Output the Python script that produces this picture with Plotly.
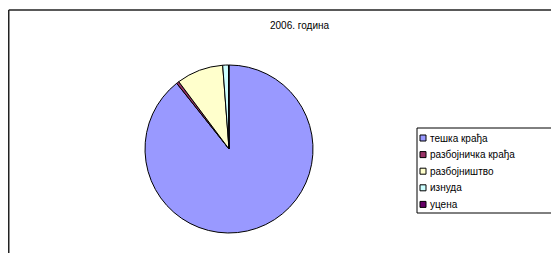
import plotly.graph_objects as go

W, H = 559, 253
OFF = 8  # page body margin: screen coords = paper coords + 8

labels = ["тешка крађа", "разбојничка крађа", "разбојништво", "изнуда", "уцена"]
values = [89.3, 0.5, 9.0, 1.1, 0.1]
colors = ["#9999FF", "#993366", "#FFFFCC", "#CCFFFF", "#660066"]
title = "2006. година"

def px(x):
    return (x - OFF) / W

def py(y):
    return 1 - (y - OFF) / H

cx, cy, r = 229, 149, 84

fig = go.Figure(go.Pie(
    labels=labels,
    values=values,
    sort=False,
    direction="clockwise",
    rotation=0,
    marker=dict(colors=colors, line=dict(color="#000000", width=1)),
    textinfo="none",
    hoverinfo="label+percent",
    showlegend=False,
    domain=dict(x=[px(cx - r), px(cx + r)], y=[py(cy + r), py(cy - r)]),
))

shapes = []
annotations = []

# outer chart border (only top and left visible)
shapes.append(dict(type="line", xref="paper", yref="paper",
                   x0=px(8.75), x1=px(W + 20), y0=py(10), y1=py(10),
                   line=dict(color="#222222", width=1.5)))
shapes.append(dict(type="line", xref="paper", yref="paper",
                   x0=px(8.75), x1=px(8.75), y0=py(10), y1=py(H + 20),
                   line=dict(color="#222222", width=1.5)))

# legend box
lx0, lx1, ly0, ly1 = 417, 555, 128, 213
shapes.append(dict(type="rect", xref="paper", yref="paper",
                   x0=px(lx0), x1=px(lx1), y0=py(ly0), y1=py(ly1),
                   line=dict(color="#000000", width=1), fillcolor="white", layer="below"))
row0, step = 138, 16.6
for i, (lab, col) in enumerate(zip(labels, colors)):
    yc = row0 + i * step
    shapes.append(dict(type="rect", xref="paper", yref="paper",
                       x0=px(420), x1=px(426), y0=py(yc - 3), y1=py(yc + 3),
                       line=dict(color="#000000", width=1), fillcolor=col))
    annotations.append(dict(text=lab, xref="paper", yref="paper",
                            x=px(428), y=py(yc), xanchor="left", yanchor="middle",
                            showarrow=False,
                            font=dict(family="Liberation Sans, Arial", size=10, color="#000000")))

annotations.append(dict(text=title, xref="paper", yref="paper",
                        x=px(300), y=py(25), xanchor="center", yanchor="middle",
                        showarrow=False,
                        font=dict(family="Liberation Sans, Arial", size=10, color="#000000")))

fig.update_layout(
    width=W, height=H,
    margin=dict(l=0, r=0, t=0, b=0),
    paper_bgcolor="white",
    plot_bgcolor="white",
    shapes=shapes,
    annotations=annotations,
)

fig.write_html("out.html")
